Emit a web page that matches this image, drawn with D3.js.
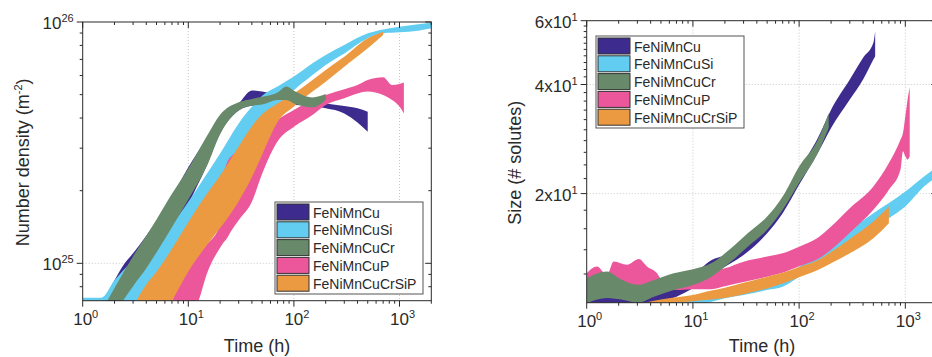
<!DOCTYPE html>
<html>
<head>
<meta charset="utf-8">
<script src="https://cdn.jsdelivr.net/npm/d3@7"></script>
<style>
  body { margin: 0; background: #fff; }
  svg { display: block; font-family: "Liberation Sans", Arial, sans-serif; }
</style>
</head>
<body>
<svg id="chart" width="932" height="357"></svg>
<script>
const seriesNames = ["FeNiMnCu", "FeNiMnCuSi", "FeNiMnCuCr", "FeNiMnCuP", "FeNiMnCuCrSiP"];
const seriesColors = ["#3d2c8d", "#62cdf1", "#688a6a", "#ec579b", "#ec9a41"];

// ---- number density (m^-2), lower / upper edge of each band ----
const densCuT  = [1.5, 2, 2.5, 3, 4, 5, 6, 7, 8, 10, 15, 20, 30, 40, 50, 70, 100, 150, 200, 300, 400, 500];
const densCuHi = [6.6e24, 8.5e24, 1e25, 1.1e25, 1.3e25, 1.5e25, 1.7e25, 1.9e25, 2.1e25, 2.5e25, 3.3e25, 4.05e25, 4.6e25, 5.2e25, 5.15e25, 4.98e25, 4.9e25, 4.68e25, 4.6e25, 4.49e25, 4.39e25, 4.25e25];
const densCuLo = [5e24, 5.5e24, 6.2e24, 6.8e24, 8.1e24, 9.2e24, 1.03e25, 1.2e25, 1.4e25, 1.75e25, 2.55e25, 3.45e25, 4.3e25, 4.5e25, 4.53e25, 4.57e25, 4.53e25, 4.49e25, 4.39e25, 4.18e25, 3.83e25, 3.51e25];

const densSiT  = [1, 1.5, 2, 3, 5, 7, 10, 15, 20, 30, 40, 50, 70, 100, 150, 200, 300, 500, 700, 1000, 1500, 2000];
const densSiHi = [7.2e24, 7.2e24, 8.5e24, 1.03e25, 1.25e25, 1.45e25, 1.8e25, 2.35e25, 2.85e25, 3.8e25, 4.45e25, 4.95e25, 5.4e25, 5.94e25, 6.74e25, 7.3e25, 8.03e25, 8.98e25, 9.32e25, 9.56e25, 9.78e25, 9.94e25];
const densSiLo = [6.4e24, 6.4e24, 6.4e24, 6.8e24, 8.5e24, 1.1e25, 1.4e25, 1.85e25, 2.2e25, 2.95e25, 3.6e25, 4.1e25, 4.5e25, 5.22e25, 6.03e25, 6.64e25, 7.41e25, 8.56e25, 8.98e25, 9.06e25, 9.21e25, 9.41e25];

const densCrT  = [1.5, 2, 3, 4, 5, 7, 10, 15, 20, 30, 40, 50, 70, 85, 100, 150, 200];
const densCrHi = [6.3e24, 7.9e24, 1.07e25, 1.3e25, 1.52e25, 1.94e25, 2.47e25, 3.37e25, 4.13e25, 4.65e25, 4.8e25, 4.9e25, 5.1e25, 5.4e25, 5.19e25, 4.87e25, 5.03e25];
const densCrLo = [5.1e24, 6.2e24, 8.04e24, 9.53e24, 1.11e25, 1.41e25, 1.84e25, 2.53e25, 3.43e25, 4.3e25, 4.5e25, 4.55e25, 4.75e25, 4.75e25, 4.6e25, 4.43e25, 4.75e25];

const densPT   = [7, 10, 12.5, 15, 20, 21, 23, 26, 30, 40, 50, 70, 100, 150, 200, 300, 400, 500, 700, 850, 1000, 1100];
const densPHi  = [7e24, 9.5e24, 1.1e25, 1.2e25, 1.45e25, 2.0e25, 2.58e25, 2.8e25, 2.9e25, 3.04e25, 3.46e25, 3.93e25, 4.32e25, 4.75e25, 4.98e25, 5.26e25, 5.48e25, 5.75e25, 5.9e25, 5.48e25, 5.53e25, 5.61e25];
const densPLo  = [5e24, 5.8e24, 7e24, 9.06e24, 1.16e25, 1.2e25, 1.26e25, 1.38e25, 1.51e25, 1.8e25, 2.35e25, 3.2e25, 3.68e25, 4.12e25, 4.53e25, 4.83e25, 5.06e25, 5.15e25, 4.98e25, 4.75e25, 4.46e25, 4.18e25];

const densAllT  = [3, 4, 5, 7, 10, 15, 20, 30, 40, 50, 70, 100, 150, 200, 300, 500, 700];
const densAllHi = [6.6e24, 8.17e24, 9.23e24, 1.15e25, 1.48e25, 1.94e25, 2.31e25, 3.05e25, 3.7e25, 4.15e25, 4.6e25, 5.06e25, 5.75e25, 6.33e25, 7.18e25, 8.56e25, 9.12e25];
const densAllLo = [5e24, 5.3e24, 5.6e24, 7e24, 9.25e24, 1.19e25, 1.4e25, 1.81e25, 2.28e25, 2.82e25, 3.85e25, 4.46e25, 5.15e25, 5.66e25, 6.53e25, 7.78e25, 8.83e25];

// ---- size (# solutes) ----
const sizeCuT  = [1, 2, 3, 5, 7, 10, 15, 20, 30, 50, 70, 100, 150, 200, 300, 400, 500, 520];
const sizeCuHi = [10.61, 10.28, 10.39, 10.84, 11.31, 11.93, 13.12, 13.55, 14.9, 16.93, 19.22, 23.27, 28.47, 34.1, 41.28, 47.39, 52.13, 56.15];
const sizeCuLo = [9.75, 9.85, 9.85, 10.06, 10.39, 10.96, 11.93, 12.57, 13.55, 15.55, 17.66, 21.15, 25.88, 30.34, 36.34, 41.28, 46.88, 47.89];

const sizeSiT  = [5, 7, 10, 15, 20, 30, 50, 70, 100, 150, 200, 300, 500, 700, 1000, 1500, 2000];
const sizeSiHi = [9.85, 10.15, 10.35, 10.61, 10.84, 11.07, 11.43, 11.8, 12.57, 13.69, 14.59, 15.89, 17.66, 18.83, 20.27, 22.3, 23.77];
const sizeSiLo = [9.54, 9.65, 9.85, 10.06, 10.28, 10.5, 10.84, 11.07, 11.8, 12.71, 13.41, 14.44, 16.06, 17.11, 18.43, 20.93, 22.3];

const sizeCrT  = [1, 1.55, 2.1, 3, 4.3, 6.6, 10, 15, 22, 33, 50, 70, 100, 150, 190];
const sizeCrHi = [11.68, 12.19, 11.6, 11.2, 11.56, 12.06, 12.37, 12.86, 13.99, 15.57, 17.29, 19.64, 23.77, 28.18, 33.38];
const sizeCrLo = [9.96, 10.3, 10.2, 10.0, 10.39, 10.84, 11.19, 11.8, 12.86, 14.29, 15.89, 18.04, 21.38, 25.88, 30.34];

const sizePT   = [1, 1.25, 1.55, 1.8, 2.4, 3.1, 3.7, 4.6, 5, 7, 10, 15, 20, 30, 50, 70, 100, 150, 200, 300, 500, 700, 900, 950, 1000, 1050, 1100];
const sizePHi  = [12.06, 12.58, 11.93, 12.99, 12.72, 13.19, 12.58, 12.06, 11.68, 11.68, 11.8, 12.18, 12.44, 12.98, 13.41, 13.69, 14.28, 15.1, 16.23, 18.23, 20.93, 24.28, 28.18, 29.39, 32.68, 36.34, 39.39];
const sizePLo  = [10.84, 10.96, 10.84, 11.07, 10.96, 10.84, 11.07, 10.96, 10.84, 10.84, 10.9, 10.9, 11.1, 11.4, 11.8, 12.1, 12.6, 13.2, 14.0, 15.6, 18.04, 20.49, 23.27, 26.16, 25.34, 24.81, 25.34];

const sizeAllT  = [3.5, 5, 7, 10, 15, 20, 30, 50, 70, 100, 150, 200, 300, 500, 700];
const sizeAllHi = [10, 10.2, 10.35, 10.5, 10.8, 11.0, 11.35, 11.8, 12.1, 12.55, 13.1, 13.8, 15.0, 16.75, 18.43];
const sizeAllLo = [9.75, 9.8, 10.0, 10.1, 10.2, 10.3, 10.55, 10.95, 11.3, 11.75, 12.3, 12.85, 13.69, 15.06, 16.57];

const timeMajor = [1, 10, 100, 1000];
const densMajor = [1e25, 1e26];
const sizeMajor = [20, 40, 60];

const svg = d3.select("#chart");
const ink = "#2a2a2a";

function supLabel(sel, base, sup, baseSize, supSize) {
    sel.append("tspan").text(base).style("font-size", baseSize + "px");
    sel.append("tspan").text(sup).style("font-size", supSize + "px").attr("dy", -7);
}

function drawPanel(cfg) {
    const g = svg.append("g");
    const x = d3.scaleLog().domain([1, 2000]).range([cfg.x0, cfg.x1]);
    const y = d3.scaleLog().domain(cfg.yDomain).range([cfg.y1, cfg.y0]);

    svg.append("clipPath").attr("id", cfg.id)
        .append("rect")
        .attr("x", cfg.x0).attr("y", cfg.y0)
        .attr("width", cfg.x1 - cfg.x0).attr("height", cfg.y1 - cfg.y0);

    // dotted grid
    g.selectAll(".gx").data([10, 100, 1000]).join("line")
        .attr("x1", d => x(d)).attr("x2", d => x(d))
        .attr("y1", cfg.y0).attr("y2", cfg.y1)
        .style("stroke", "#c8c8c8").style("stroke-width", 1).style("stroke-dasharray", "1,2");
    g.selectAll(".gy").data(cfg.yGrid).join("line")
        .attr("x1", cfg.x0).attr("x2", cfg.x1)
        .attr("y1", d => y(d)).attr("y2", d => y(d))
        .style("stroke", "#c8c8c8").style("stroke-width", 1).style("stroke-dasharray", "1,2");

    // bands, drawn in the panel's stacking order
    const area = d3.area()
        .x(d => x(d[0]))
        .y0(d => y(d[1]))
        .y1(d => y(d[2]))
        .curve(d3.curveMonotoneX);
    cfg.order.forEach(i => {
        const b = cfg.bands[i];
        g.append("path")
            .datum(d3.zip(b[0], b[1], b[2]))
            .attr("clip-path", `url(#${cfg.id})`)
            .attr("d", area)
            .style("fill", seriesColors[i]);
    });

    // frame
    g.append("rect")
        .attr("x", cfg.x0).attr("y", cfg.y0)
        .attr("width", cfg.x1 - cfg.x0).attr("height", cfg.y1 - cfg.y0)
        .style("fill", "none").style("stroke", ink).style("stroke-width", 1);

    // x ticks: bottom outward, top inward
    const xt = x.ticks().filter(d => d >= 1 && d <= 2000);
    xt.forEach(d => {
        const len = timeMajor.includes(d) ? 6 : 3;
        g.append("line").attr("x1", x(d)).attr("x2", x(d))
            .attr("y1", cfg.y1).attr("y2", cfg.y1 + len).style("stroke", ink);
        g.append("line").attr("x1", x(d)).attr("x2", x(d))
            .attr("y1", cfg.y0).attr("y2", cfg.y0 + len).style("stroke", ink);
    });
    timeMajor.forEach((d, i) => {
        const t = g.append("text")
            .attr("x", x(d) - 9.5).attr("y", cfg.y1 + 24)
            .style("fill", ink);
        supLabel(t, "10", String(i), 17, 11);
    });

    // y ticks: left outward, right inward
    cfg.yTicks.forEach(d => {
        const len = cfg.yMajor.includes(d) ? 6 : 3;
        g.append("line").attr("x1", cfg.x0 - len).attr("x2", cfg.x0)
            .attr("y1", y(d)).attr("y2", y(d)).style("stroke", ink);
        g.append("line").attr("x1", cfg.x1 - len).attr("x2", cfg.x1)
            .attr("y1", y(d)).attr("y2", y(d)).style("stroke", ink);
    });
    cfg.yMajor.forEach((d, i) => {
        const t = g.append("text")
            .attr("x", cfg.x0 - 9).attr("y", y(d) + 7)
            .style("text-anchor", "end").style("fill", ink);
        supLabel(t, cfg.yLabels[i][0], cfg.yLabels[i][1], 17, 11);
    });

    // axis titles
    g.append("text")
        .attr("x", cfg.titleX)
        .attr("y", 352)
        .style("text-anchor", "middle").style("font-size", "18px").style("fill", ink)
        .text("Time (h)");
    const yt = g.append("text")
        .attr("transform", `translate(${cfg.yTitleX},${(cfg.y0 + cfg.y1) / 2 + 1}) rotate(-90)`)
        .style("text-anchor", "middle").style("font-size", "18px").style("fill", ink);
    yt.append("tspan").text(cfg.yTitle[0]);
    if (cfg.yTitle[1]) {
        yt.append("tspan").text(cfg.yTitle[1]).style("font-size", "11px").attr("dy", -7);
        yt.append("tspan").text(cfg.yTitle[2]).attr("dy", 7);
    }

    // legend
    const lg = g.append("g");
    lg.append("rect")
        .attr("x", cfg.legX).attr("y", cfg.legY)
        .attr("width", 148).attr("height", 92)
        .style("fill", "#fff").style("stroke", "#555").style("stroke-width", 1);
    seriesNames.forEach((name, i) => {
        const ry = cfg.legY + 2 + i * 17.8;
        lg.append("rect")
            .attr("x", cfg.legX + 2).attr("y", ry)
            .attr("width", 32).attr("height", 16)
            .style("fill", seriesColors[i]).style("stroke", "#333").style("stroke-width", 1);
        lg.append("text")
            .attr("x", cfg.legX + 38).attr("y", ry + 13.5)
            .style("font-size", "14px").style("fill", ink)
            .text(name);
    });
}

drawPanel({
    id: "clipDens",
    x0: 82.7, x1: 431.3, y0: 22, y1: 300.7,
    yDomain: [7e24, 1e26],
    yGrid: [1e25],
    yTicks: [8e24, 9e24, 1e25, 2e25, 3e25, 4e25, 5e25, 6e25, 7e25, 8e25, 9e25, 1e26],
    yMajor: densMajor,
    yLabels: [["10", "25"], ["10", "26"]],
    yTitle: ["Number density (m", "-2", ")"],
    yTitleX: 29,
    titleX: 257,
    legX: 275, legY: 202,
    order: [0, 1, 3, 4, 2],
    bands: [
        [densCuT, densCuLo, densCuHi],
        [densSiT, densSiLo, densSiHi],
        [densCrT, densCrLo, densCrHi],
        [densPT, densPLo, densPHi],
        [densAllT, densAllLo, densAllHi]
    ]
});

drawPanel({
    id: "clipSize",
    x0: 586.7, x1: 937.3, y0: 20.7, y1: 302.7,
    yDomain: [10, 60],
    yGrid: [20, 40],
    yTicks: d3.range(12, 61, 2),
    yMajor: sizeMajor,
    yLabels: [["2x10", "1"], ["4x10", "1"], ["6x10", "1"]],
    yTitle: ["Size (# solutes)"],
    yTitleX: 521,
    titleX: 762,
    legX: 596, legY: 36,
    order: [0, 1, 3, 4, 2],
    bands: [
        [sizeCuT, sizeCuLo, sizeCuHi],
        [sizeSiT, sizeSiLo, sizeSiHi],
        [sizeCrT, sizeCrLo, sizeCrHi],
        [sizePT, sizePLo, sizePHi],
        [sizeAllT, sizeAllLo, sizeAllHi]
    ]
});
</script>
</body>
</html>
